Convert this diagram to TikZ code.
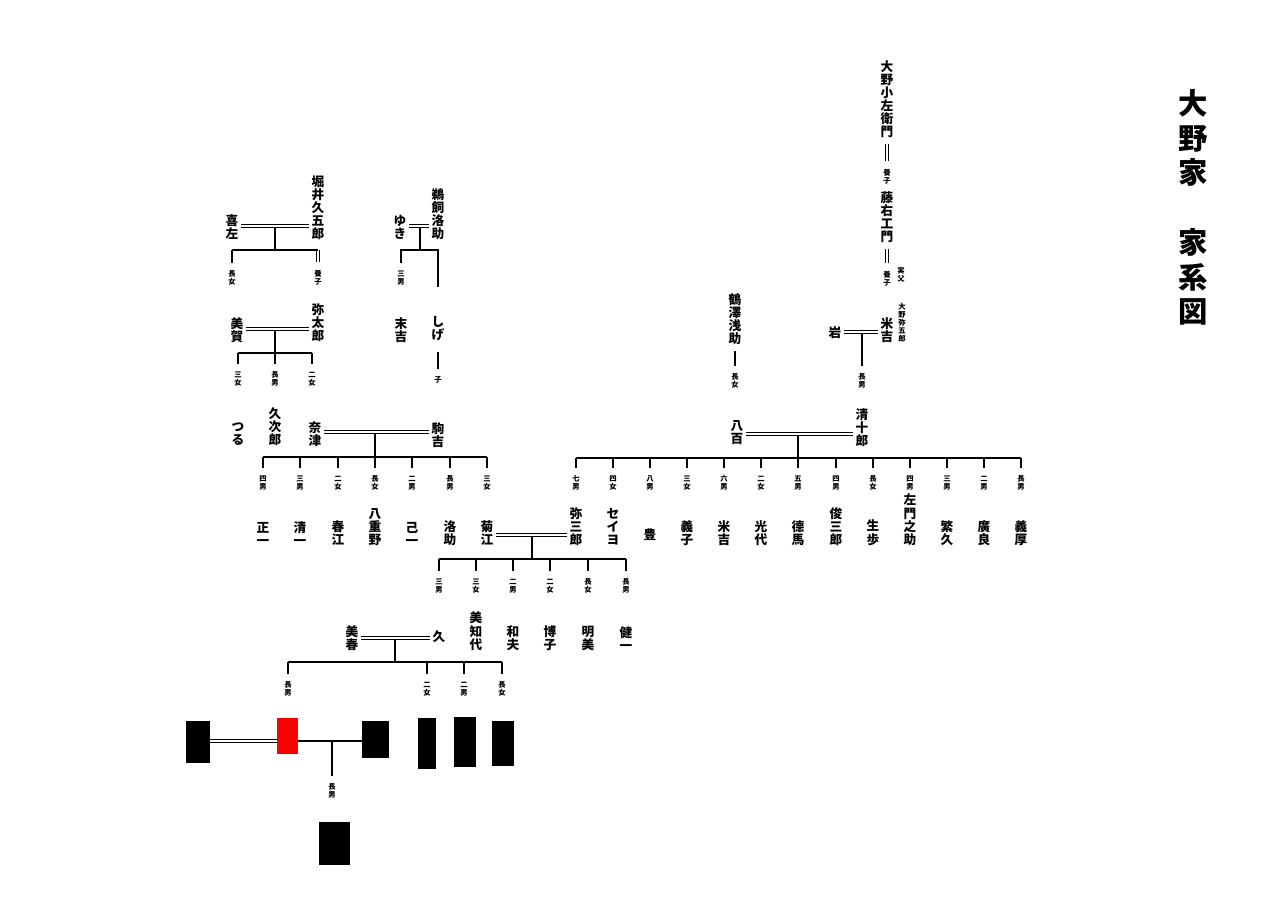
\documentclass[tikz,border=0pt]{standalone}
\usepackage{fontspec}
\newfontfamily\cjk{Noto Sans CJK JP}
\tikzset{
  member/.style={font=\cjk\bfseries\fontsize{9.5}{9.8}\selectfont, align=center, inner sep=0pt, outer sep=2pt},
  rank/.style={font=\cjk\bfseries\fontsize{5.5}{6}\selectfont, align=center, inner sep=0pt, outer ysep=6pt},
  heading/.style={font=\cjk\bfseries\fontsize{22}{26}\selectfont, align=center, inner sep=0pt},
  kin/.style={line width=1pt},
  wed/.style={line width=0.85pt, double, double distance=2pt},
  hidden/.style={fill=black, inner sep=0pt},
}
\begin{document}
\begin{tikzpicture}[x=0.75pt,y=-0.75pt]
\fill[white] (0,0) rectangle (1280,904);
\useasboundingbox (0,0) rectangle (1280,904);

% title
\node[heading] (title1) at (1193,138) {大\\野\\家};
\node[heading] (title2) at (1193,277) {家\\系\\図};

% Oono line
\node[member] (kozaemon) at (887,99) {大\\野\\小\\左\\衛\\門};
\node[rank] (adopt1) at (887,177) {養\\子};
\node[member] (touemon) at (887,217) {藤\\右\\工\\門};
\node[rank] (adopt2) at (887,279) {養\\子};
\node[rank] (jippu) at (901,275) {実\\父};
\node[rank] (yagoro) at (902,323) {大\\野\\弥\\五\\郎};
\node[member] (yonekichiS) at (887,330) {米\\吉};
\node[member] (iwa) at (835,333) {岩};
\coordinate (mIwa) at (862,332);
\node[rank] (iwaSon) at (862,381) {長\\男};
\draw[wed, shorten <=3pt] (kozaemon.south) -- (adopt1.north);
\draw[wed, shorten <=3pt] (touemon.south) -- (adopt2.north);
\draw[kin] (mIwa) -- (iwaSon.north);
\draw[wed] (iwa.east |- mIwa) -- (yonekichiS.west |- mIwa);

\node[member] (asasuke) at (735,319) {鶴\\澤\\浅\\助};
\node[rank] (asaDau) at (735,381) {長\\女};
\draw[kin, shorten <=3pt] (asasuke.south) -- (asaDau.north);

% Seijuro and Yao
\node[member] (seijuro) at (862,428) {清\\十\\郎};
\node[member] (yao) at (737,433) {八\\百};
\coordinate (mSei) at (798,434);
\coordinate (bSei) at (798,458);
\foreach \x/\r/\n/\id/\ny in {576/{七\\男}/{弥\\三\\郎}/yasaburo/548, 613/{四\\女}/{セ\\イ\\ヨ}/seiyo/548,
    650/{八\\男}/{豊}/yutaka/543, 687/{三\\女}/{義\\子}/yoshiko/548, 724/{六\\男}/{米\\吉}/yonekichi/548,
    761/{二\\女}/{光\\代}/mitsuyo/548, 798/{五\\男}/{德\\馬}/tokuma/548, 836/{四\\男}/{俊\\三\\郎}/shunzaburo/548,
    873/{長\\女}/{生\\歩}/ikuho/548, 910/{四\\男}/{左\\門\\之\\助}/samonnosuke/548, 947/{三\\男}/{繁\\久}/shigehisa/548,
    984/{二\\男}/{廣\\良}/hiroyoshi/548, 1021/{長\\男}/{義\\厚}/yoshiatsu/548}{
  \node[rank] (\id-r) at (\x,483) {\r};
  \node[member, anchor=south] (\id) at (\x,\ny) {\n};
  \draw[kin] (\id-r.north) -- (\id-r.north |- bSei);
}
\draw[kin] (yasaburo-r.north |- bSei) -- (yoshiatsu-r.north |- bSei);
\draw[kin] (mSei) -- (bSei);
\draw[wed] (yao.east |- mSei) -- (seijuro.west |- mSei);

% Horii and Kisa
\node[member] (kyugoro) at (318,208) {堀\\井\\久\\五\\郎};
\node[member] (kisa) at (232,227) {喜\\左};
\coordinate (mKyu) at (275,226);
\coordinate (bKyu) at (275,250);
\node[rank] (kyuDau) at (232,278) {長\\女};
\node[rank] (kyuAdopt) at (318,278) {養\\子};
\draw[kin] (mKyu) -- (bKyu);
\draw[kin] (kyuDau.north) -- (kyuDau.north |- bKyu);
\draw[wed] (kyuAdopt.north) -- (kyuAdopt.north |- bKyu);
\draw[kin] (kyuDau.north |- bKyu) -- (kyuAdopt.north |- bKyu);
\draw[wed] (kisa.east |- mKyu) -- (kyugoro.west |- mKyu);

% Yataro and Mika
\node[member] (yataro) at (318,323) {弥\\太\\郎};
\node[member] (mika) at (237,330) {美\\賀};
\coordinate (mYata) at (275,329);
\coordinate (bYata) at (275,353);
\foreach \x/\r/\id in {238/{三\\女}/yataD3, 275/{長\\男}/yataS1, 312/{二\\女}/yataD2}{
  \node[rank] (\id) at (\x,379) {\r};
  \draw[kin] (\id.north) -- (\id.north |- bYata);
}
\draw[kin] (yataD3.north |- bYata) -- (yataD2.north |- bYata);
\draw[kin] (mYata) -- (bYata);
\draw[wed] (mika.east |- mYata) -- (yataro.west |- mYata);

% Ukai and Yuki
\node[member] (ukai) at (438,214) {鵜\\飼\\洛\\助};
\node[member] (yuki) at (400,227) {ゆ\\き};
\coordinate (mUkai) at (420,226);
\coordinate (bUkai) at (420,250);
\node[rank] (ukaiSon) at (401,278) {三\\男};
\coordinate (ukaiEnd) at (438,287);
\draw[kin] (mUkai) -- (bUkai);
\draw[kin] (ukaiSon.north) -- (ukaiSon.north |- bUkai) -- (ukaiEnd |- bUkai) -- (ukaiEnd);
\draw[wed] (yuki.east |- mUkai) -- (ukai.west |- mUkai);
\node[member] (suekichi) at (401,330) {末\\吉};
\node[member] (shige) at (438,329) {し\\げ};
\node[rank] (shigeChild) at (438,380) {子};
\draw[kin, shorten <=6pt] (shige.south) -- (shigeChild.north);

% Komakichi and Natsu
\node[member] (tsuru) at (238,434) {つ\\る};
\node[member] (kyujiro) at (275,427) {久\\次\\郎};
\node[member] (natsu) at (315,434) {奈\\津};
\node[member] (komakichi) at (438,435) {駒\\吉};
\coordinate (mKoma) at (375,432);
\coordinate (bKoma) at (375,457);
\foreach \x/\r/\n/\id in {263/{四\\男}/{正\\一}/shoichi, 300/{三\\男}/{清\\一}/seiichi, 338/{二\\女}/{春\\江}/harue,
    375/{長\\女}/{八\\重\\野}/yaeno, 412/{二\\男}/{己\\一}/kiichi, 450/{長\\男}/{洛\\助}/rakusuke,
    487/{三\\女}/{菊\\江}/kikue}{
  \node[rank] (\id-r) at (\x,483) {\r};
  \node[member, anchor=south] (\id) at (\x,548) {\n};
  \draw[kin] (\id-r.north) -- (\id-r.north |- bKoma);
}
\draw[kin] (shoichi-r.north |- bKoma) -- (kikue-r.north |- bKoma);
\draw[kin] (mKoma) -- (bKoma);
\draw[wed] (natsu.east |- mKoma) -- (komakichi.west |- mKoma);

% Yasaburo and Kikue
\coordinate (mKiku) at (532,535);
\coordinate (bKiku) at (532,559);
\foreach \x/\r/\n/\id/\ny in {439/{三\\男}/{久}/hisashi/645, 476/{三\\女}/{美\\知\\代}/michiyo/653,
    513/{二\\男}/{和\\夫}/kazuo/653, 550/{二\\女}/{博\\子}/hiroko/653, 588/{長\\女}/{明\\美}/akemi/653,
    626/{長\\男}/{健\\一}/kenichi/653}{
  \node[rank] (\id-r) at (\x,586) {\r};
  \node[member, anchor=south] (\id) at (\x,\ny) {\n};
  \draw[kin] (\id-r.north) -- (\id-r.north |- bKiku);
}
\draw[kin] (hisashi-r.north |- bKiku) -- (kenichi-r.north |- bKiku);
\draw[kin] (mKiku) -- (bKiku);
\draw[wed] (kikue.east |- mKiku) -- (yasaburo.west |- mKiku);

% Hisashi and Miharu
\node[member] (miharu) at (352,638) {美\\春};
\coordinate (mHisa) at (395,638);
\coordinate (bHisa) at (395,662);
\foreach \x/\r/\id in {288/{長\\男}/hisaS1, 427/{二\\女}/hisaD2, 464/{二\\男}/hisaS2, 502/{長\\女}/hisaD1}{
  \node[rank] (\id) at (\x,689) {\r};
  \draw[kin] (\id.north) -- (\id.north |- bHisa);
}
\draw[kin] (hisaS1.north |- bHisa) -- (hisaD1.north |- bHisa);
\draw[kin] (mHisa) -- (bHisa);
\draw[wed] (miharu.east |- mHisa) -- (hisashi.west |- mHisa);

% present generation (hidden)
\node[hidden, minimum width=18pt, minimum height=31.5pt] (wife) at (198,742) {};
\node[fill=red, inner sep=0pt, minimum width=15.75pt, minimum height=27pt] (self) at (287.5,736) {};
\node[hidden, minimum width=20.25pt, minimum height=27.75pt] (sib) at (375.5,739.5) {};
\node[hidden, minimum width=13.5pt, minimum height=38.25pt] (cousinA) at (427,743.5) {};
\node[hidden, minimum width=16.5pt, minimum height=37.5pt] (cousinB) at (465,742) {};
\node[hidden, minimum width=16.5pt, minimum height=33.75pt] (cousinC) at (503,743.5) {};
\coordinate (mSelf) at (332,741);
\node[rank] (selfSon) at (332,791) {長\\男};
\node[hidden, minimum width=23.25pt, minimum height=32.25pt] (son) at (334.5,843.5) {};
\draw[wed] (wife.east |- mSelf) -- (self.west |- mSelf);
\draw[kin] (self.east |- mSelf) -- (sib.west |- mSelf);
\draw[kin] (mSelf) -- (selfSon.north);
\end{tikzpicture}
\end{document}
